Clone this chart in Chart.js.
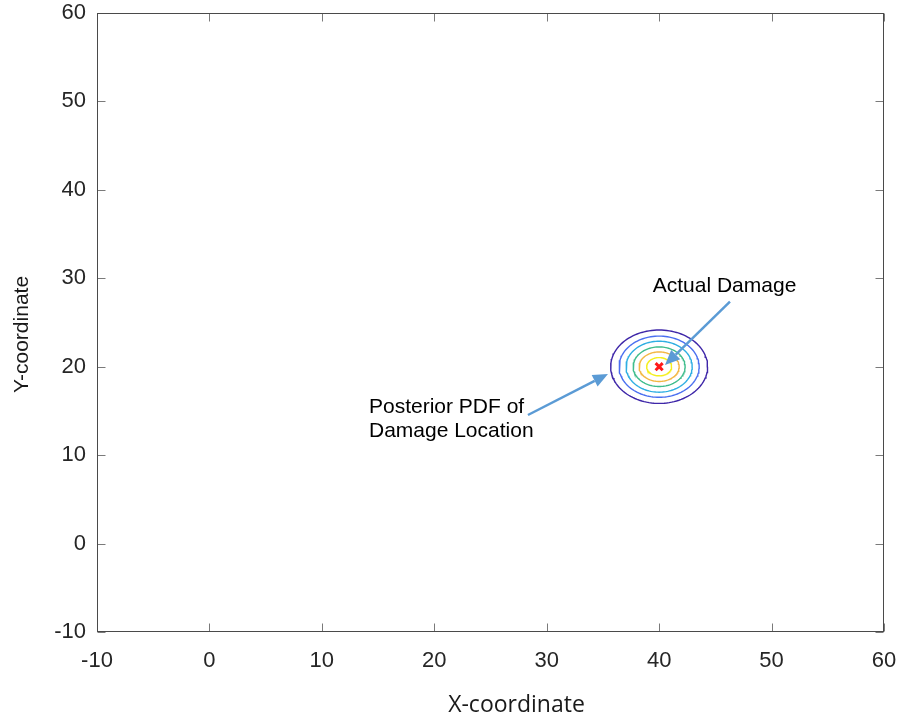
<!DOCTYPE html>
<html>
<head>
<meta charset="utf-8">
<title>Damage location</title>
<script src="https://cdn.jsdelivr.net/npm/chart.js@4.4.0/dist/chart.umd.min.js"></script>
<style>
  html, body { margin: 0; padding: 0; background: #fff; }
</style>
</head>
<body>
<canvas id="damage-chart" width="901" height="721"></canvas>
<script>
// axis ticks (same on both axes)
const axisTicks = [-10, 0, 10, 20, 30, 40, 50, 60];

// posterior pdf contour rings, outer to inner
const pdfCenter = [40, 20];
const ringRadiusX = [4.31, 3.56, 2.94, 2.31, 1.78, 1.11];
const ringRadiusY = [4.15, 3.46, 2.88, 2.24, 1.67, 1.03];
const ringColors = ['#3e26a8', '#4a6ff0', '#2eaee2', '#3fbd8c', '#f3b743', '#f4ef1e'];

// actual damage and estimated location
const actualDamage = [40, 20];
const estimate = [40, 20];

// callout text and arrows (axis units)
const callouts = [
    { lines: ['Actual Damage'], at: [39.43, 28.48], from: [46.30, 27.35], to: [40.52, 20.19] },
    { lines: ['Posterior PDF of', 'Damage Location'], at: [14.19, 14.77], from: [28.33, 14.54], to: [35.45, 19.18] },
];

function ringPoints(i) {
    const pts = [];
    for (let a = 0; a <= 360; a += 3) {
        const t = a * Math.PI / 180;
        pts.push({
            x: pdfCenter[0] + ringRadiusX[i] * Math.cos(t),
            y: pdfCenter[1] + ringRadiusY[i] * Math.sin(t),
        });
    }
    return pts;
}

const ringSets = ringColors.map((c, i) => ({
    data: ringPoints(i),
    showLine: true,
    borderColor: c,
    borderWidth: 1.4,
    pointRadius: 0,
    tension: 0,
}));

// box with inward ticks on all four sides, plus axis titles
const frame = {
    id: 'frame',
    afterDraw(chart) {
        const ctx = chart.ctx;
        const a = chart.chartArea;
        const xs = chart.scales.x, ys = chart.scales.y;
        const L = Math.round(a.left) + 0.5, R = Math.round(a.right) - 0.5;
        const T = Math.round(a.top) + 0.5, B = Math.round(a.bottom) - 0.5;
        ctx.save();
        ctx.lineWidth = 1;
        ctx.strokeStyle = '#7a7a7a';
        ctx.beginPath();
        axisTicks.forEach(v => {
            const px = Math.round(xs.getPixelForValue(v)) + 0.5;
            const py = Math.round(ys.getPixelForValue(v)) + 0.5;
            ctx.moveTo(px, B); ctx.lineTo(px, B - 8);
            ctx.moveTo(px, T); ctx.lineTo(px, T + 8);
            ctx.moveTo(L, py); ctx.lineTo(L + 8, py);
            ctx.moveTo(R, py); ctx.lineTo(R - 8, py);
        });
        ctx.stroke();
        ctx.strokeStyle = '#4a4a4a';
        ctx.strokeRect(L, T, R - L, B - T);

        ctx.fillStyle = '#1a1a1a';
        ctx.font = '23px "Open Sans"';
        ctx.textAlign = 'center';
        ctx.textBaseline = 'alphabetic';
        ctx.fillText('X-coordinate', (a.left + a.right) / 2 + 26, 712);
        ctx.translate(28, (a.top + a.bottom) / 2 + 12);
        ctx.rotate(-Math.PI / 2);
        ctx.font = '21px "Liberation Sans"';
        ctx.fillText('Y-coordinate', 0, 0);
        ctx.restore();
    }
};

// arrows and callout text
const notes = {
    id: 'notes',
    afterDraw(chart) {
        const ctx = chart.ctx;
        const xs = chart.scales.x, ys = chart.scales.y;
        ctx.save();
        callouts.forEach(c => {
            const x0 = xs.getPixelForValue(c.from[0]), y0 = ys.getPixelForValue(c.from[1]);
            const x1 = xs.getPixelForValue(c.to[0]), y1 = ys.getPixelForValue(c.to[1]);
            const ang = Math.atan2(y1 - y0, x1 - x0);
            const head = 15, half = 6.5;
            const bx = x1 - head * Math.cos(ang), by = y1 - head * Math.sin(ang);
            ctx.strokeStyle = '#5b9bd5';
            ctx.fillStyle = '#5b9bd5';
            ctx.lineWidth = 2.5;
            ctx.beginPath();
            ctx.moveTo(x0, y0);
            ctx.lineTo(bx, by);
            ctx.stroke();
            ctx.beginPath();
            ctx.moveTo(x1, y1);
            ctx.lineTo(bx + half * Math.sin(ang), by - half * Math.cos(ang));
            ctx.lineTo(bx - half * Math.sin(ang), by + half * Math.cos(ang));
            ctx.closePath();
            ctx.fill();

            ctx.fillStyle = '#000';
            ctx.font = '21px "Liberation Sans"';
            ctx.textAlign = 'left';
            ctx.textBaseline = 'alphabetic';
            const tx = xs.getPixelForValue(c.at[0]), ty = ys.getPixelForValue(c.at[1]);
            c.lines.forEach((s, k) => ctx.fillText(s, tx, ty + k * 24.5));
        });
        ctx.restore();
    }
};

const chart = new Chart(document.getElementById('damage-chart'), {
    type: 'scatter',
    data: {
        datasets: [
            ...ringSets,
            {
                data: [{ x: actualDamage[0], y: actualDamage[1] }],
                pointStyle: 'crossRot',
                pointRadius: 5,
                borderColor: '#ff1a1a',
                borderWidth: 3,
            },
            {
                data: [{ x: estimate[0], y: estimate[1] }],
                pointStyle: 'circle',
                pointRadius: 1.5,
                backgroundColor: '#4a5ad8',
                borderWidth: 0,
            },
        ],
    },
    options: {
        responsive: false,
        animation: false,
        layout: { padding: { left: 0, top: 13, right: 17, bottom: 0 } },
        plugins: { legend: { display: false }, tooltip: { enabled: false } },
        scales: {
            x: {
                type: 'linear',
                min: -10,
                max: 60,
                afterBuildTicks: s => { s.ticks = axisTicks.map(v => ({ value: v })); },
                afterFit: s => { s.height = 89; s.paddingLeft = 0; s.paddingRight = 0; },
                grid: { display: false, drawTicks: false },
                border: { display: false },
                ticks: { padding: 16, color: '#262626', font: { family: 'Liberation Sans', size: 22 } },
            },
            y: {
                type: 'linear',
                min: -10,
                max: 60,
                afterBuildTicks: s => { s.ticks = axisTicks.map(v => ({ value: v })); },
                afterFit: s => { s.width = 97; s.paddingTop = 0; s.paddingBottom = 0; },
                grid: { display: false, drawTicks: false },
                border: { display: false },
                ticks: { padding: 11, color: '#262626', font: { family: 'Liberation Sans', size: 22 } },
            },
        },
    },
    plugins: [frame, notes],
});
</script>
</body>
</html>
